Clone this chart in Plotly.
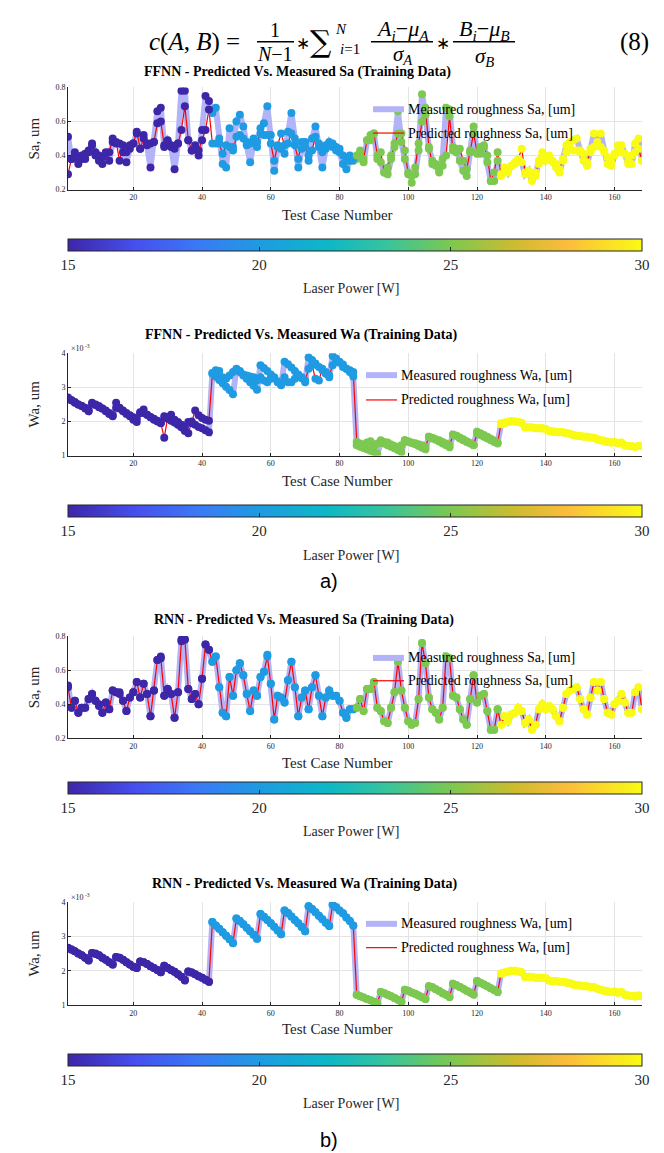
import plotly.graph_objects as go

W, H = 664, 1153

# ---------------- data ----------------
test_case = list(range(1, 169))
laser_levels = [15, 20, 25, 30]
cases_per_level = 42
laser_power = [p for p in laser_levels for _ in range(cases_per_level)]

measured_sa = [
    0.51, 0.38, 0.42, 0.35, 0.38, 0.38, 0.43, 0.46, 0.42, 0.40,
    0.35, 0.41, 0.37, 0.48, 0.47, 0.47, 0.42, 0.36, 0.44, 0.47,
    0.53, 0.44, 0.52, 0.46, 0.33, 0.48, 0.66, 0.68, 0.45, 0.49,
    0.46, 0.32, 0.47, 0.78, 0.78, 0.49, 0.43, 0.46, 0.40, 0.55,
    0.75, 0.72, 0.65, 0.68, 0.50, 0.35, 0.33, 0.56, 0.45, 0.60,
    0.64, 0.57, 0.46, 0.36, 0.48, 0.45, 0.56, 0.59, 0.69, 0.52,
    0.31, 0.45, 0.44, 0.41, 0.54, 0.65, 0.50, 0.33, 0.44, 0.48,
    0.37, 0.50, 0.57, 0.45, 0.33, 0.44, 0.48, 0.45, 0.45, 0.42,
    0.35, 0.32, 0.37, 0.37, 0.38, 0.43, 0.36, 0.49, 0.49, 0.53,
    0.38, 0.36, 0.30, 0.29, 0.38, 0.47, 0.66, 0.48, 0.38, 0.30,
    0.28, 0.29, 0.43, 0.76, 0.64, 0.44, 0.37, 0.35, 0.31, 0.38,
    0.68, 0.67, 0.45, 0.44, 0.37, 0.31, 0.28, 0.43, 0.57, 0.41,
    0.45, 0.46, 0.36, 0.25, 0.25, 0.37, 0.28, 0.33, 0.30, 0.34,
    0.35, 0.38, 0.36, 0.29, 0.31, 0.25, 0.28, 0.37, 0.40, 0.37,
    0.39, 0.37, 0.33, 0.30, 0.38, 0.46, 0.48, 0.49, 0.50, 0.43,
    0.37, 0.34, 0.44, 0.53, 0.48, 0.53, 0.43, 0.35, 0.34, 0.40,
    0.42, 0.46, 0.41, 0.35, 0.35, 0.47, 0.50, 0.37]

ffnn_pred_sa = [
    0.29, 0.38, 0.40, 0.37, 0.40, 0.41, 0.42, 0.47, 0.40, 0.37,
    0.39, 0.42, 0.42, 0.50, 0.48, 0.37, 0.46, 0.42, 0.46, 0.47,
    0.54, 0.44, 0.50, 0.47, 0.47, 0.48, 0.59, 0.60, 0.46, 0.48,
    0.45, 0.44, 0.47, 0.55, 0.69, 0.49, 0.43, 0.44, 0.43, 0.49,
    0.55, 0.67, 0.47, 0.47, 0.47, 0.41, 0.46, 0.45, 0.43, 0.51,
    0.52, 0.50, 0.48, 0.47, 0.50, 0.48, 0.53, 0.52, 0.52, 0.47,
    0.37, 0.46, 0.53, 0.46, 0.47, 0.53, 0.46, 0.38, 0.48, 0.45,
    0.40, 0.43, 0.51, 0.47, 0.42, 0.46, 0.46, 0.47, 0.43, 0.44,
    0.40, 0.37, 0.40, 0.38, 0.40, 0.42, 0.38, 0.49, 0.52, 0.53,
    0.40, 0.42, 0.30, 0.33, 0.40, 0.45, 0.53, 0.53, 0.43, 0.29,
    0.24, 0.33, 0.47, 0.60, 0.68, 0.45, 0.35, 0.34, 0.30, 0.34,
    0.40, 0.63, 0.43, 0.42, 0.44, 0.37, 0.32, 0.42, 0.53, 0.42,
    0.41, 0.45, 0.40, 0.25, 0.30, 0.42, 0.29, 0.31, 0.32, 0.34,
    0.36, 0.38, 0.44, 0.30, 0.31, 0.28, 0.30, 0.35, 0.42, 0.38,
    0.40, 0.36, 0.35, 0.32, 0.37, 0.42, 0.44, 0.43, 0.43, 0.42,
    0.41, 0.36, 0.42, 0.45, 0.46, 0.45, 0.42, 0.39, 0.36, 0.41,
    0.46, 0.42, 0.41, 0.37, 0.40, 0.42, 0.44, 0.37]

rnn_pred_sa = [
    0.50, 0.38, 0.42, 0.35, 0.38, 0.38, 0.43, 0.46, 0.42, 0.39,
    0.35, 0.41, 0.37, 0.48, 0.47, 0.46, 0.42, 0.36, 0.44, 0.47,
    0.53, 0.44, 0.52, 0.46, 0.33, 0.48, 0.66, 0.67, 0.45, 0.49,
    0.46, 0.32, 0.47, 0.77, 0.78, 0.49, 0.43, 0.46, 0.40, 0.55,
    0.75, 0.72, 0.65, 0.68, 0.50, 0.35, 0.33, 0.56, 0.45, 0.60,
    0.64, 0.57, 0.46, 0.36, 0.48, 0.45, 0.56, 0.59, 0.68, 0.52,
    0.31, 0.45, 0.44, 0.41, 0.54, 0.65, 0.50, 0.33, 0.44, 0.48,
    0.37, 0.50, 0.57, 0.45, 0.33, 0.44, 0.48, 0.45, 0.45, 0.42,
    0.35, 0.32, 0.37, 0.37, 0.38, 0.43, 0.36, 0.49, 0.49, 0.53,
    0.38, 0.36, 0.30, 0.29, 0.38, 0.47, 0.65, 0.48, 0.38, 0.30,
    0.28, 0.29, 0.43, 0.76, 0.64, 0.44, 0.37, 0.35, 0.31, 0.38,
    0.68, 0.67, 0.45, 0.44, 0.37, 0.31, 0.28, 0.43, 0.57, 0.41,
    0.45, 0.46, 0.36, 0.25, 0.25, 0.37, 0.28, 0.33, 0.30, 0.34,
    0.35, 0.38, 0.36, 0.29, 0.31, 0.25, 0.28, 0.37, 0.40, 0.37,
    0.39, 0.37, 0.33, 0.30, 0.38, 0.46, 0.48, 0.49, 0.50, 0.43,
    0.37, 0.34, 0.44, 0.53, 0.48, 0.53, 0.43, 0.35, 0.34, 0.40,
    0.42, 0.46, 0.41, 0.35, 0.35, 0.47, 0.50, 0.37]

# Wa values in units of 1e-3 um
measured_wa = [
    2.67, 2.62, 2.57, 2.50, 2.45, 2.38, 2.30,
    2.52, 2.50, 2.45, 2.38, 2.32, 2.25, 2.18,
    2.40, 2.38, 2.32, 2.25, 2.18, 2.12, 2.08,
    2.27, 2.25, 2.20, 2.13, 2.08, 2.02, 1.96,
    2.15, 2.08, 2.02, 1.97, 1.90, 1.83, 1.72,
    1.98, 1.95, 1.90, 1.84, 1.80, 1.74, 1.68,
    3.42, 3.32, 3.22, 3.12, 3.02, 2.92, 2.80,
    3.52, 3.45, 3.35, 3.25, 3.15, 3.05, 2.93,
    3.65, 3.57, 3.48, 3.38, 3.28, 3.17, 3.06,
    3.75, 3.68, 3.58, 3.48, 3.38, 3.27, 3.15,
    3.88, 3.80, 3.70, 3.60, 3.50, 3.40, 3.30,
    3.92, 3.85, 3.75, 3.67, 3.55, 3.45, 3.32,
    1.30, 1.26, 1.22, 1.18, 1.14, 1.10, 1.05,
    1.38, 1.35, 1.30, 1.26, 1.21, 1.16, 1.10,
    1.45, 1.42, 1.37, 1.33, 1.28, 1.23, 1.18,
    1.55, 1.52, 1.46, 1.41, 1.35, 1.30, 1.24,
    1.62, 1.58, 1.53, 1.48, 1.42, 1.37, 1.31,
    1.70, 1.65, 1.60, 1.55, 1.49, 1.44, 1.38,
    1.92, 1.95, 1.98, 2.00, 2.00, 1.98, 1.96,
    1.82, 1.83, 1.82, 1.80, 1.80, 1.80, 1.78,
    1.72, 1.70, 1.70, 1.68, 1.68, 1.66, 1.64,
    1.60, 1.58, 1.57, 1.55, 1.55, 1.53, 1.52,
    1.48, 1.45, 1.42, 1.40, 1.38, 1.40, 1.36,
    1.38, 1.30, 1.28, 1.27, 1.25, 1.28, 1.27]

ffnn_pred_wa = [
    2.70, 2.62, 2.55, 2.50, 2.45, 2.40, 2.32,
    2.55, 2.48, 2.42, 2.38, 2.30, 2.22, 2.15,
    2.55, 2.40, 2.30, 2.22, 2.15, 2.05, 1.98,
    2.25, 2.35, 2.20, 2.12, 2.05, 2.00, 1.95,
    1.52, 2.12, 2.20, 2.05, 1.98, 1.90, 1.82,
    1.65, 2.00, 2.32, 2.18, 2.10, 2.05, 2.02,
    3.40, 3.50, 3.48, 3.30, 3.25, 3.35, 3.45,
    3.55, 3.48, 3.38, 3.35, 3.32, 3.30, 3.20,
    3.30, 3.20, 3.15, 3.25, 3.30, 3.15, 3.10,
    3.30, 3.15, 3.15, 3.25, 3.35, 3.30, 3.20,
    3.55, 3.65, 3.25, 3.20, 3.55, 3.45, 3.35,
    3.65, 3.75, 3.72, 3.60, 3.55, 3.50, 3.45,
    1.40, 1.35, 1.30, 1.38, 1.42, 1.28, 1.35,
    1.45, 1.40, 1.38, 1.32, 1.28, 1.20, 1.30,
    1.45, 1.40, 1.38, 1.36, 1.33, 1.30, 1.25,
    1.55, 1.50, 1.48, 1.45, 1.40, 1.35, 1.30,
    1.60, 1.58, 1.50, 1.45, 1.40, 1.35, 1.30,
    1.65, 1.60, 1.55, 1.50, 1.45, 1.40, 1.35,
    1.95, 1.97, 1.99, 2.01, 2.00, 1.98, 1.95,
    1.84, 1.83, 1.82, 1.81, 1.80, 1.79, 1.78,
    1.72, 1.71, 1.70, 1.69, 1.68, 1.66, 1.64,
    1.60, 1.58, 1.57, 1.56, 1.55, 1.53, 1.52,
    1.48, 1.45, 1.43, 1.40, 1.38, 1.40, 1.36,
    1.36, 1.30, 1.28, 1.27, 1.26, 1.28, 1.27]

rnn_pred_wa = [
    2.66, 2.62, 2.57, 2.50, 2.45, 2.38, 2.31,
    2.52, 2.49, 2.45, 2.38, 2.32, 2.25, 2.18,
    2.40, 2.38, 2.32, 2.25, 2.18, 2.12, 2.08,
    2.27, 2.25, 2.20, 2.13, 2.08, 2.02, 1.96,
    2.15, 2.08, 2.02, 1.97, 1.90, 1.83, 1.73,
    1.98, 1.95, 1.90, 1.84, 1.80, 1.74, 1.68,
    3.42, 3.32, 3.22, 3.12, 3.02, 2.92, 2.81,
    3.52, 3.45, 3.35, 3.25, 3.15, 3.05, 2.93,
    3.65, 3.57, 3.48, 3.38, 3.28, 3.17, 3.06,
    3.75, 3.68, 3.58, 3.48, 3.38, 3.27, 3.15,
    3.88, 3.80, 3.70, 3.60, 3.50, 3.40, 3.30,
    3.92, 3.85, 3.75, 3.67, 3.55, 3.45, 3.32,
    1.30, 1.26, 1.22, 1.18, 1.14, 1.10, 1.06,
    1.38, 1.35, 1.30, 1.26, 1.21, 1.16, 1.10,
    1.45, 1.42, 1.37, 1.33, 1.28, 1.23, 1.18,
    1.55, 1.52, 1.46, 1.41, 1.35, 1.30, 1.24,
    1.62, 1.58, 1.53, 1.48, 1.42, 1.37, 1.31,
    1.70, 1.65, 1.60, 1.55, 1.49, 1.44, 1.38,
    1.92, 1.95, 1.98, 2.00, 2.00, 1.98, 1.96,
    1.82, 1.83, 1.82, 1.80, 1.80, 1.80, 1.78,
    1.72, 1.70, 1.70, 1.68, 1.68, 1.66, 1.64,
    1.60, 1.58, 1.57, 1.55, 1.55, 1.53, 1.52,
    1.48, 1.45, 1.42, 1.40, 1.38, 1.40, 1.36,
    1.38, 1.30, 1.28, 1.27, 1.25, 1.28, 1.27]

x_ticks = [20, 40, 60, 80, 100, 120, 140, 160]
sa_ticks = [0.2, 0.4, 0.6, 0.8]
wa_ticks = [1, 2, 3, 4]
cbar_ticks = [15, 20, 25, 30]

panels = [
    dict(title="FFNN - Predicted Vs. Measured Sa (Training Data)", meas=measured_sa, pred=ffnn_pred_sa,
         ylab="Sa, um", var="Sa", yr=[0.2, 0.8], yt=sa_ticks, top=76, bot=179, title_y=60, title_x=289,
         xlab_y=205, cb_top=229, cb_lab_y=279, leg_x=365, leg_y=(98, 122), exp=False),
    dict(title="FFNN - Predicted Vs. Measured Wa (Training Data)", meas=measured_wa, pred=ffnn_pred_wa,
         ylab="Wa, um", var="Wa", yr=[1, 4], yt=wa_ticks, top=344, bot=447, title_y=326, title_x=293,
         xlab_y=473, cb_top=497, cb_lab_y=548, leg_x=358, leg_y=(366, 391), exp=True),
    dict(title="RNN - Predicted Vs. Measured Sa (Training Data)", meas=measured_sa, pred=rnn_pred_sa,
         ylab="Sa, um", var="Sa", yr=[0.2, 0.8], yt=sa_ticks, top=629, bot=732, title_y=613, title_x=296,
         xlab_y=757, cb_top=776, cb_lab_y=826, leg_x=365, leg_y=(651, 674), exp=False),
    dict(title="RNN - Predicted Vs. Measured Wa (Training Data)", meas=measured_wa, pred=rnn_pred_wa,
         ylab="Wa, um", var="Wa", yr=[1, 4], yt=wa_ticks, top=897, bot=1001, title_y=879, title_x=296,
         xlab_y=1025, cb_top=1050, cb_lab_y=1100, leg_x=358, leg_y=(919, 943), exp=True),
]

parula = [
    [0.0, "#3e26a8"], [0.12, "#4650ef"], [0.23, "#3a7af6"], [0.333, "#1e9be2"],
    [0.45, "#0db7c7"], [0.55, "#35c3a0"], [0.667, "#7cc850"], [0.78, "#cfbb30"],
    [0.87, "#fbbd3c"], [1.0, "#f9fb14"],
]

SERIF = "Liberation Serif"
AX_COL = "#262626"
LAV = "#b3b3f7"
X0, X1 = 60, 634


def px(x):
    return x / W


def py(y):
    return 1 - y / H


fig = go.Figure()
layout = dict(width=W, height=H, margin=dict(l=0, r=0, t=0, b=0),
              paper_bgcolor="white", plot_bgcolor="white", showlegend=False)
annotations = []
shapes = []

for i, p in enumerate(panels, start=1):
    sx = "" if i == 1 else str(i)
    xa, ya = "x" + sx, "y" + sx
    ca = "coloraxis" + sx
    fig.add_trace(go.Scatter(x=test_case, y=p["meas"], mode="lines", xaxis=xa, yaxis=ya,
                             line=dict(color=LAV, width=6), hoverinfo="skip"))
    fig.add_trace(go.Scatter(x=test_case, y=p["pred"], mode="lines", xaxis=xa, yaxis=ya,
                             line=dict(color="#ff0000", width=1.2), hoverinfo="skip"))
    fig.add_trace(go.Scatter(x=test_case + test_case, y=p["meas"] + p["pred"], mode="markers",
                             xaxis=xa, yaxis=ya,
                             marker=dict(size=8, color=laser_power + laser_power, coloraxis=ca,
                                         line=dict(width=0))))
    layout["xaxis" + sx] = dict(domain=[px(X0), px(X1)], range=[1, 168], anchor=ya,
                                tickvals=x_ticks, ticks="inside", ticklen=3, tickcolor=AX_COL,
                                tickfont=dict(family=SERIF, size=8, color=AX_COL),
                                showgrid=True, gridcolor="#e4e4e4", gridwidth=1,
                                showline=True, linecolor=AX_COL, linewidth=1, zeroline=False)
    layout["yaxis" + sx] = dict(domain=[py(p["bot"]), py(p["top"])], range=p["yr"], anchor=xa,
                                tickvals=p["yt"], ticks="inside", ticklen=3, tickcolor=AX_COL,
                                tickfont=dict(family=SERIF, size=8, color=AX_COL),
                                showgrid=True, gridcolor="#e4e4e4", gridwidth=1,
                                showline=True, linecolor=AX_COL, linewidth=1, zeroline=False)
    layout[ca] = dict(cmin=15, cmax=30, colorscale=parula,
                      colorbar=dict(orientation="h", x=px((X0 + X1) / 2), xanchor="center",
                                    len=(X1 - X0) / W, lenmode="fraction", thickness=12,
                                    y=py(p["cb_top"]), yanchor="top", ypad=0, xpad=0,
                                    outlinewidth=1, outlinecolor=AX_COL,
                                    tickvals=cbar_ticks, ticks="inside", ticklen=4, tickcolor=AX_COL,
                                    tickfont=dict(family=SERIF, size=15, color=AX_COL)))
    # titles and labels
    annotations.append(dict(text="<b>%s</b>" % p["title"], x=px(p["title_x"]), y=py(p["title_y"]),
                            xref="paper", yref="paper", showarrow=False, xanchor="center", yanchor="middle",
                            font=dict(family=SERIF, size=14, color="#000")))
    annotations.append(dict(text=p["ylab"], x=px(26), y=py((p["top"] + p["bot"]) / 2), textangle=-90,
                            xref="paper", yref="paper", showarrow=False, xanchor="center", yanchor="middle",
                            font=dict(family=SERIF, size=15, color=AX_COL)))
    annotations.append(dict(text="Test Case Number", x=px(329), y=py(p["xlab_y"]),
                            xref="paper", yref="paper", showarrow=False, xanchor="center", yanchor="middle",
                            font=dict(family=SERIF, size=15, color=AX_COL)))
    annotations.append(dict(text="Laser Power [W]", x=px(343), y=py(p["cb_lab_y"]),
                            xref="paper", yref="paper", showarrow=False, xanchor="center", yanchor="middle",
                            font=dict(family=SERIF, size=14, color=AX_COL)))
    if p["exp"]:
        annotations.append(dict(text="×10<sup> -3</sup>", x=px(61), y=py(p["top"] - 5),
                                xref="paper", yref="paper", showarrow=False, xanchor="left",
                                yanchor="middle", font=dict(family=SERIF, size=8, color=AX_COL)))
    # legend (manual)
    lx = p["leg_x"]
    ym, yp = p["leg_y"]
    shapes.append(dict(type="line", xref="paper", yref="paper", x0=px(lx), x1=px(lx + 31),
                       y0=py(ym), y1=py(ym), line=dict(color=LAV, width=6), layer="above"))
    shapes.append(dict(type="line", xref="paper", yref="paper", x0=px(lx), x1=px(lx + 31),
                       y0=py(yp), y1=py(yp), line=dict(color="#ff0000", width=1.2), layer="above"))
    annotations.append(dict(text="Measured roughness %s, [um]" % p["var"], x=px(lx + 33), y=py(ym),
                            xref="paper", yref="paper", showarrow=False, xanchor="left", yanchor="middle",
                            font=dict(family=SERIF, size=14, color="#000")))
    annotations.append(dict(text="Predicted roughness %s, [um]" % p["var"], x=px(lx + 33), y=py(yp),
                            xref="paper", yref="paper", showarrow=False, xanchor="left", yanchor="middle",
                            font=dict(family=SERIF, size=14, color="#000")))

# equation (8)
def eq(text, x, y, size, anchor="center", fam=SERIF):
    annotations.append(dict(text=text, x=px(x), y=py(y), xref="paper", yref="paper", showarrow=False,
                            xanchor=anchor, yanchor="middle", font=dict(family=fam, size=size, color="#000")))


def bar(x0, x1, y):
    shapes.append(dict(type="line", xref="paper", yref="paper", x0=px(x0), x1=px(x1),
                       y0=py(y), y1=py(y), line=dict(color="#000", width=1.3)))


eq("<i>c</i>(<i>A</i>, <i>B</i>) =", 186, 30, 25)
eq("1", 267, 18, 20)
bar(249, 286, 30)
eq("<i>N</i>−1", 267, 42, 20)
eq("∗", 295, 32, 17)
eq("∑", 313, 30, 30, fam="DejaVu Serif")
eq("<i>N</i>", 333, 17, 15)
eq("<i>i</i>=1", 342, 37, 15)
eq("<i>A<sub>i</sub></i>−<i>μ<sub>A</sub></i>", 394, 18, 22)
bar(363, 425, 30)
eq("<i>σ<sub>A</sub></i>", 395, 43, 21)
eq("∗", 435, 32, 17)
eq("<i>B<sub>i</sub></i>−<i>μ<sub>B</sub></i>", 476, 18, 22)
bar(445, 507, 30)
eq("<i>σ<sub>B</sub></i>", 476, 45, 21)
eq("(8)", 626, 30, 25)

eq("a)", 321, 573, 20, fam="Liberation Sans")
eq("b)", 321, 1137, 20, fam="Liberation Sans")

layout["annotations"] = annotations
layout["shapes"] = shapes
fig.update_layout(**layout)
fig.write_html("out.html")
